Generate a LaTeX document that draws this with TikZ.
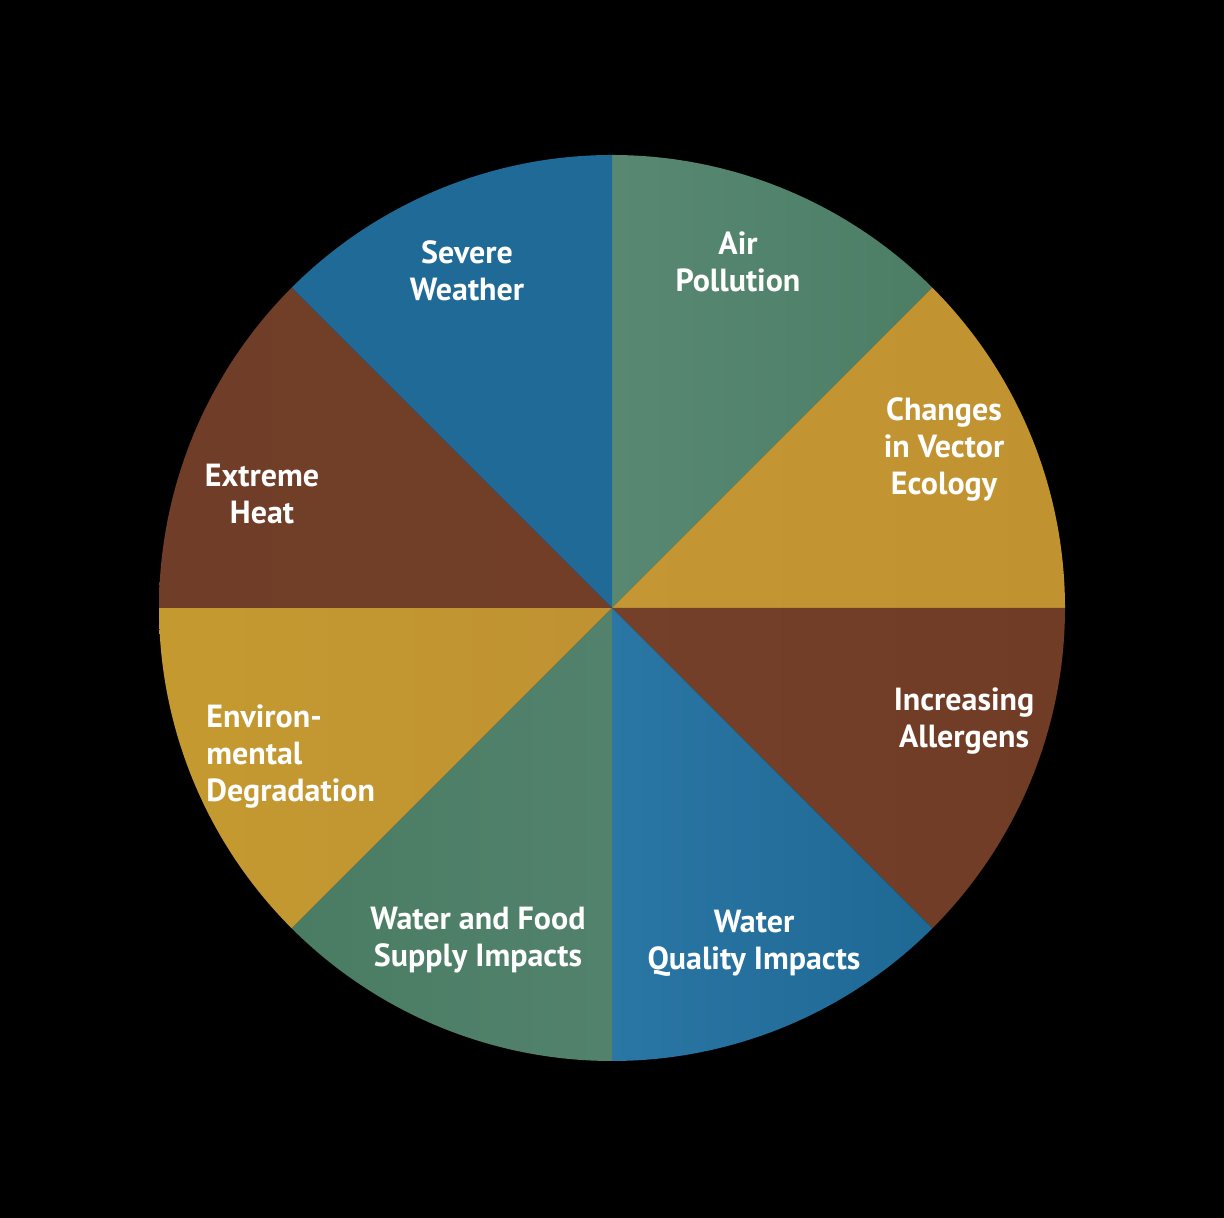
\documentclass[tikz,border=0pt]{standalone}
\usepackage{fontspec}
\setmainfont{PT Sans}
\usepackage{tikz}
\tikzset{
  slice/.style={draw=none},
  lbl/.style={text=white, font=\bfseries\fontsize{16}{18.5}\selectfont, align=center, inner sep=1pt},
  every picture/.append style={baseline=(current bounding box.center)}
}

\begin{document}
\begin{tikzpicture}[x=0.5pt,y=0.5pt]
  \fill[black] (0,0) rectangle (1224,1218);
  \useasboundingbox (0,0) rectangle (1224,1218);
  \coordinate (C) at (612,610);
  % slices: start angle / left colour / right colour
  \foreach \a/\cl/\cr in {45/{rgb,255:red,88;green,136;blue,114}/{rgb,255:red,76;green,126;blue,102},
                         0/{rgb,255:red,196;green,150;blue,52}/{rgb,255:red,192;green,146;blue,48},
                         -45/{rgb,255:red,116;green,64;blue,42}/{rgb,255:red,112;green,60;blue,38},
                         -90/{rgb,255:red,42;green,118;blue,164}/{rgb,255:red,30;green,104;blue,148},
                         -135/{rgb,255:red,74;green,124;blue,99}/{rgb,255:red,82;green,130;blue,108},
                         180/{rgb,255:red,196;green,154;blue,48}/{rgb,255:red,192;green,146;blue,50},
                         135/{rgb,255:red,112;green,62;blue,40}/{rgb,255:red,114;green,62;blue,40},
                         90/{rgb,255:red,31;green,106;blue,150}/{rgb,255:red,31;green,106;blue,150}}
    \shade[slice, left color=\cl, right color=\cr] (C) -- ++(\a:453) arc[start angle=\a, end angle=\a+45, radius=453] -- cycle;
  % labels
  \node[lbl] (air) at (738,956) {Air\\Pollution};
  \node[lbl] (vec) at (944,769) {Changes\\in Vector\\Ecology};
  \node[lbl] (all) at (964,497) {Increasing\\Allergens};
  \node[lbl] (wq) at (754,275) {Water\\Quality Impacts};
  \node[lbl] (wf) at (478,278) {Water and Food\\Supply Impacts};
  \node[lbl, anchor=west, inner sep=0pt] (env) at (206,461)
    {\begin{tabular}{@{}l@{}}Environ-\\mental\\Degradation\end{tabular}};
  \node[lbl] (heat) at (262,724) {Extreme\\Heat};
  \node[lbl] (sev) at (467,947) {Severe\\Weather};
\end{tikzpicture}
\end{document}
